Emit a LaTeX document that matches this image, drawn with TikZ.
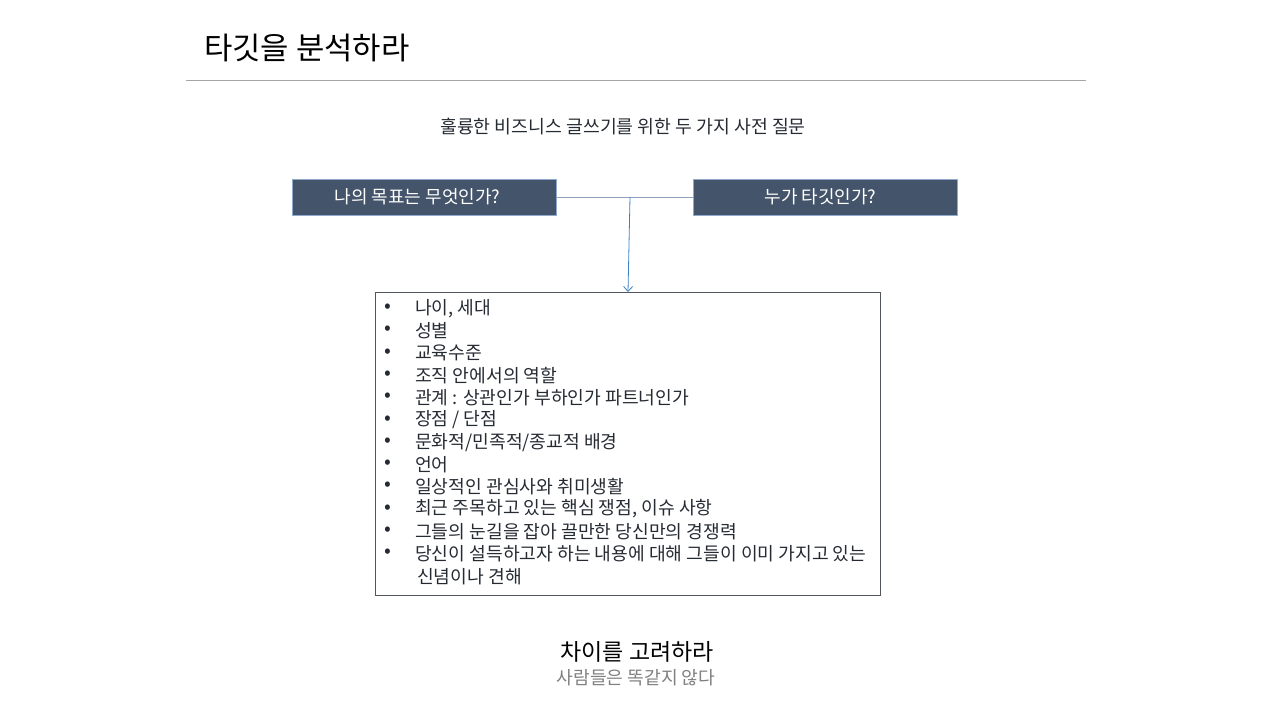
\documentclass[tikz,border=0pt]{standalone}
\usepackage{fontspec}
\setmainfont{Noto Sans CJK KR}
\usetikzlibrary{arrows.meta}
\definecolor{boxfill}{HTML}{44546A}
\definecolor{boxedge}{HTML}{8FAACC}
\definecolor{arrowblue}{HTML}{3A82C8}
\definecolor{rulegray}{HTML}{A6A6A6}
\definecolor{txt}{HTML}{262B33}
\definecolor{subgray}{HTML}{808080}
\begin{document}
\begin{tikzpicture}[x=1pt,y=-1pt,
  qbox/.style={draw=boxedge,line width=0.8pt,fill=boxfill,minimum width=264pt,minimum height=36pt,inner sep=0pt,text=white,font=\fontsize{18}{20}\selectfont},
  litem/.style={anchor=west,inner sep=0pt,text=txt,font=\fontsize{18.2}{20}\selectfont},
  bul/.style={anchor=center,inner sep=0pt,text=txt,font=\fontsize{20}{22}\selectfont}]
\useasboundingbox (0,0) rectangle (1280,720);
\node[anchor=west,inner sep=0pt,text=black,font=\fontsize{30.8}{34}\selectfont] (title) at (204,48) {타깃을 분석하라};
\draw[rulegray,line width=0.8pt] (186,80) -- (1086,80);
\node[inner sep=0pt,text=txt,font=\fontsize{18.3}{20}\selectfont] (sub) at (623,127) {훌륭한 비즈니스 글쓰기를 위한 두 가지 사전 질문};
\node[qbox] (q1) at (424,197) {\hspace*{-13pt}나의 목표는 무엇인가?};
\node[qbox] (q2) at (825,197) {\hspace*{-9pt}누가 타깃인가?};
\draw[boxedge!80!gray,line width=0.7pt] (q1.east) -- (q2.west);
\coordinate (j) at (630,197);
\draw[draw=txt!80,line width=0.8pt] (375,292) rectangle (880,595);
\coordinate (listtop) at (628,292);
\draw[arrowblue,line width=0.8pt,-{Straight Barb[length=5pt,width=9pt]}] (j) -- (listtop);
\foreach \t [count=\i] in {{나이, 세대},{성별},{교육수준},{조직 안에서의 역할},{관계 : 상관인가 부하인가 파트너인가},{장점 / 단점},{문화적/민족적/종교적 배경},{언어},{일상적인 관심사와 취미생활},{최근 주목하고 있는 핵심 쟁점, 이슈 사항},{그들의 눈길을 잡아 끌만한 당신만의 경쟁력},{당신이 설득하고자 하는 내용에 대해 그들이 이미 가지고 있는}}{
  \node[bul] (b\i) at (388,{286+22.3*\i}) {•};
  \node[litem] (l\i) at (415,{286+22.3*\i}) {\t};
}
\node[litem] (l13) at (417,577) {신념이나 견해};
\node[inner sep=0pt,text=black,font=\fontsize{23}{26}\selectfont] (diff) at (637,652) {차이를 고려하라};
\node[inner sep=0pt,text=subgray,font=\fontsize{18.2}{20}\selectfont] (same) at (636,678) {사람들은 똑같지 않다};
\end{tikzpicture}
\end{document}
